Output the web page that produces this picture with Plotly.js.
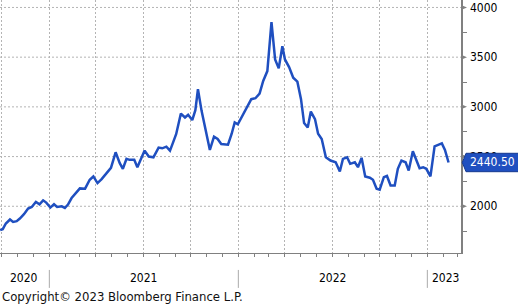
<!DOCTYPE html>
<html>
<head>
<meta charset="utf-8">
<script src="https://cdn.plot.ly/plotly-3.0.1.min.js"></script>
<style>html,body{margin:0;padding:0;background:#fff}#chart{width:518px;height:305px}</style>
</head>
<body>
<div id="chart"></div>
<script>
const dates = [
'2020-09-28','2020-10-03','2020-10-09','2020-10-17','2020-10-23','2020-10-30','2020-11-05','2020-11-13','2020-11-21','2020-11-28',
'2020-12-06','2020-12-13','2020-12-20','2020-12-26','2021-01-03','2021-01-10','2021-01-16','2021-01-25','2021-01-31','2021-02-06',
'2021-02-13','2021-02-19','2021-03-01','2021-03-11','2021-03-20','2021-03-27','2021-04-04','2021-04-12','2021-04-21','2021-04-30',
'2021-05-09','2021-05-17','2021-05-23','2021-05-30','2021-06-05','2021-06-14','2021-06-20','2021-06-28','2021-07-04','2021-07-12',
'2021-07-21','2021-07-31','2021-08-07','2021-08-15','2021-08-22','2021-08-28','2021-09-03','2021-09-12','2021-09-20','2021-09-26',
'2021-10-04','2021-10-10','2021-10-15','2021-10-22','2021-10-30','2021-11-07','2021-11-15','2021-11-22','2021-11-29','2021-12-06',
'2021-12-12','2021-12-19','2021-12-25','2021-12-31','2022-01-10','2022-01-17','2022-01-26','2022-02-03','2022-02-11','2022-02-18',
'2022-02-26','2022-03-06','2022-03-13','2022-03-20','2022-03-27','2022-04-01','2022-04-09','2022-04-17','2022-04-25','2022-05-02',
'2022-05-08','2022-05-15','2022-05-21','2022-05-29','2022-06-04','2022-06-11','2022-06-19','2022-06-28','2022-07-08','2022-07-16',
'2022-07-22','2022-07-30','2022-08-05','2022-08-14','2022-08-20','2022-08-27','2022-09-03','2022-09-12','2022-09-18','2022-09-25',
'2022-10-01','2022-10-09','2022-10-15','2022-10-22','2022-10-30','2022-11-05','2022-11-12','2022-11-20','2022-11-26','2022-12-04',
'2022-12-11','2022-12-17','2022-12-24','2022-12-30','2023-01-07','2023-01-15','2023-01-23','2023-01-29','2023-02-04','2023-02-11'
];
const values = [
1760,1770,1827,1867,1843,1850,1877,1920,1977,1993,
2043,2020,2060,2037,1987,2020,1993,2000,1983,2017,
2083,2117,2180,2177,2267,2300,2233,2273,2327,2387,
2543,2433,2377,2477,2467,2467,2393,2493,2560,2500,
2493,2590,2583,2600,2560,2643,2727,2933,2893,2920,
2867,2967,3177,2960,2760,2567,2700,2677,2627,2620,
2620,2727,2843,2825,2927,2987,3077,3087,3133,3260,
3360,3853,3477,3387,3610,3477,3400,3293,3253,3077,
2837,2793,2953,2877,2730,2677,2493,2460,2443,2350,
2477,2493,2427,2443,2393,2487,2300,2287,2267,2177,
2167,2293,2305,2210,2210,2377,2460,2443,2360,2553,
2460,2383,2393,2377,2300,2603,2620,2633,2567,2440.5
];
const lastValue = 2440.50;
const lastLabel = '2440.50';
const majorTicks = [2000, 2500, 3000, 3500, 4000];
const minorTicks = [1750, 2250, 2750, 3250, 3750];
const yearLabels = ['2020', '2021', '2022', '2023'];
const yearLabelDates = ['2020-11-14', '2021-07-02', '2022-07-02', '2023-02-05'];
const yearBreaks = ['2021-01-01', '2022-01-01', '2023-01-01'];
const copyrightText = 'Copyright\u00a9 2023 Bloomberg Finance L.P.';

const FONT = '"DejaVu Sans Condensed", "DejaVu Sans", sans-serif';
const LINE_BLUE = '#1f4fc0';
const GRID = '#b4b4b4';
const AXIS = '#808080';
const maxValue = Math.max(...values);

const shapes = [];
// horizontal dotted gridlines at the major ticks (kept under the series line where it crosses)
majorTicks.forEach(v => {
  shapes.push({
    type: 'line', xref: 'paper', yref: 'y', x0: 0, x1: 1, y0: v, y1: v,
    line: {color: GRID, width: 1, dash: '2px,2px'},
    layer: v > maxValue ? 'above' : 'between'
  });
});
// arrow markers at the major ticks
majorTicks.forEach(v => {
  shapes.push({
    type: 'path', xref: 'paper', yref: 'y', xsizemode: 'pixel', ysizemode: 'pixel',
    xanchor: 1, yanchor: v, path: 'M0,-2.5 L6,0 L0,2.5 Z',
    fillcolor: AXIS, line: {width: 0}, layer: 'above'
  });
});
yearBreaks.forEach(d => {
  shapes.push({
    type: 'line', xref: 'x', yref: 'paper', x0: d, x1: d, y0: -0.067, y1: -0.138,
    line: {color: '#aaaaaa', width: 1}
  });
});
shapes.push({
  type: 'path', xref: 'paper', yref: 'y', xsizemode: 'pixel', ysizemode: 'pixel',
  xanchor: 1, yanchor: lastValue, path: 'M1.3,0 L5,9.2 L60,9.2 L60,-9.2 L5,-9.2 Z',
  fillcolor: LINE_BLUE, line: {color: '#15398f', width: 1}, layer: 'above'
});

const annotations = [];
yearLabels.forEach((t, i) => {
  annotations.push({
    text: t, xref: 'x', yref: 'paper', x: yearLabelDates[i], y: -0.0988,
    xanchor: 'center', yanchor: 'middle', showarrow: false,
    font: {family: FONT, size: 12, color: '#000'}
  });
});
annotations.push({
  text: lastLabel, xref: 'paper', yref: 'y', x: 1, y: lastValue, xshift: 7,
  xanchor: 'left', yanchor: 'middle', showarrow: false,
  font: {family: FONT, size: 12, color: '#ffffff'}
});
annotations.push({
  text: copyrightText, xref: 'paper', yref: 'paper', x: 0, y: -0.17,
  xanchor: 'left', yanchor: 'middle', showarrow: false,
  font: {family: FONT, size: 13, color: '#111'}
});

const trace = {
  x: dates, y: values, type: 'scatter', mode: 'lines',
  line: {color: LINE_BLUE, width: 2.5}, hoverinfo: 'skip'
};

const layout = {
  width: 518, height: 305,
  margin: {l: 0, r: 57, t: 0, b: 52, pad: 0},
  paper_bgcolor: '#ffffff', plot_bgcolor: '#ffffff',
  showlegend: false,
  font: {family: FONT, size: 12, color: '#000'},
  xaxis: {
    type: 'date', range: ['2020-09-27 17:00', '2023-03-07'],
    tick0: '2020-10-01', dtick: 'M3',
    showgrid: true, gridcolor: GRID, griddash: '2px,2px', gridwidth: 1,
    showticklabels: false, ticks: 'outside', ticklen: 3, tickcolor: AXIS,
    minor: {tick0: '2020-10-01', dtick: 'M1', ticks: 'outside', ticklen: 3, tickcolor: AXIS, showgrid: false},
    showline: true, linecolor: AXIS, linewidth: 1, zeroline: false, fixedrange: true
  },
  yaxis: {
    side: 'right', range: [1530, 4075],
    tickmode: 'array', tickvals: majorTicks, ticktext: majorTicks.map(String),
    ticklabeloverflow: 'allow',
    showgrid: false,
    ticks: 'outside', ticklen: 5, tickcolor: 'rgba(0,0,0,0)',
    minor: {tickmode: 'array', tickvals: minorTicks, ticks: 'outside', ticklen: 4, tickcolor: AXIS, showgrid: false},
    tickfont: {family: FONT, size: 12, color: '#000'},
    showline: true, linecolor: AXIS, linewidth: 1.5, zeroline: false, fixedrange: true
  },
  shapes: shapes,
  annotations: annotations
};

Plotly.newPlot('chart', [trace], layout, {staticPlot: true, displayModeBar: false});
</script>
</body>
</html>
